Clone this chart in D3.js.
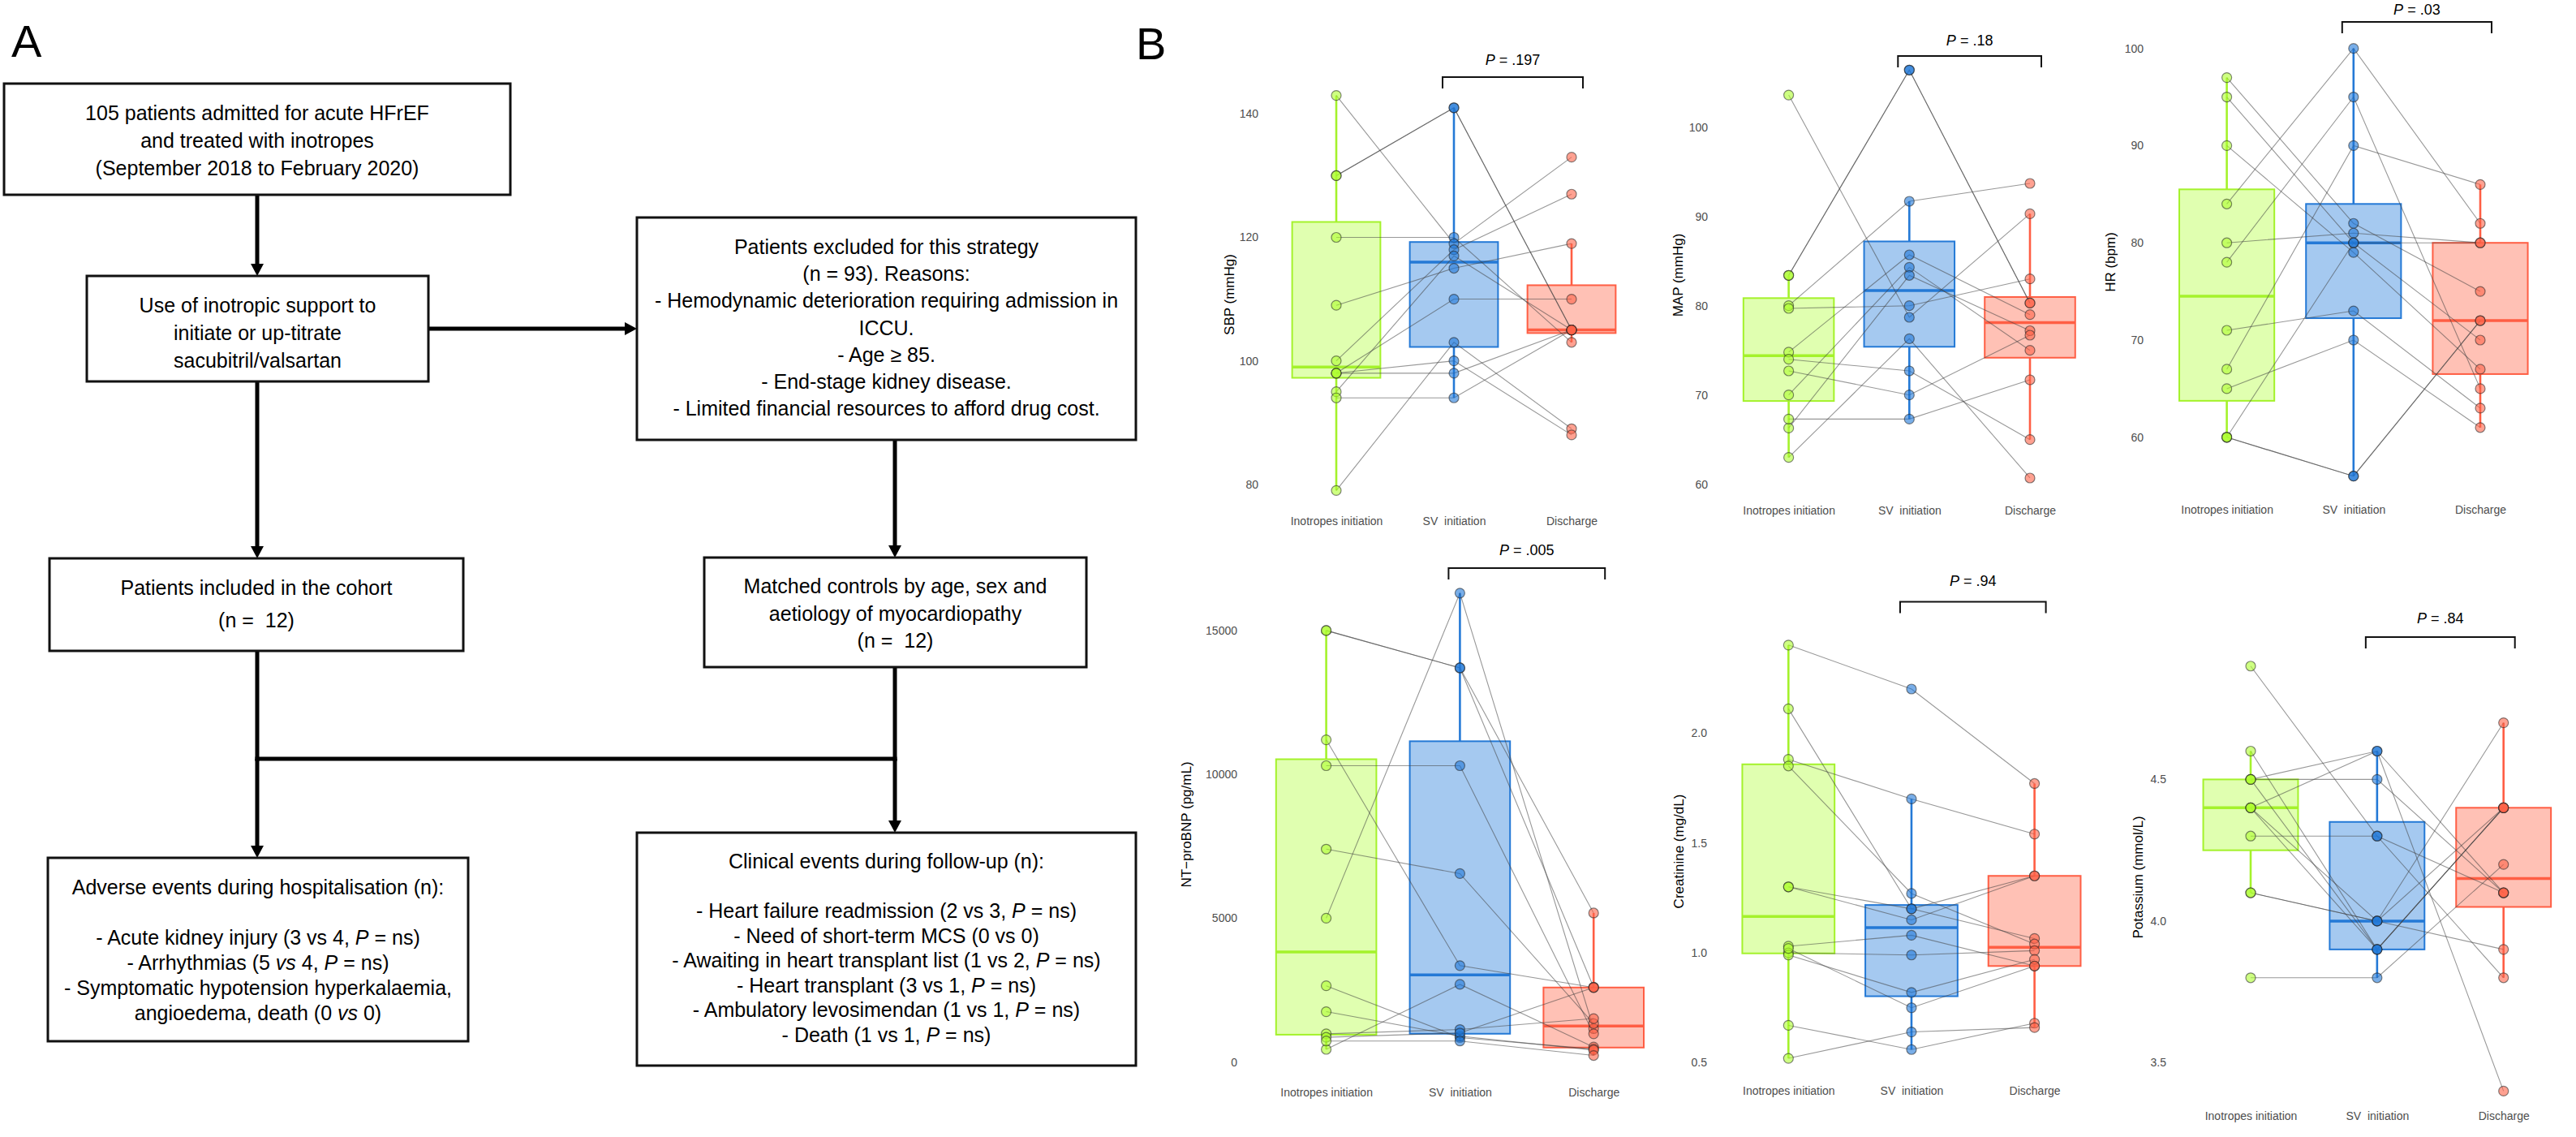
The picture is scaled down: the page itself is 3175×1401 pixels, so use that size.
<!DOCTYPE html>
<html><head><meta charset="utf-8">
<script src="https://cdn.jsdelivr.net/npm/d3@7"></script>
<style>body{margin:0;background:#fff} svg{display:block} text{white-space:pre}</style>
</head><body>
<svg id="fig" width="3175" height="1401"></svg>
<script>
// ---------------- DATA ----------------
const categories = ["Inotropes initiation", "SV  initiation", "Discharge"];

// per-patient values (same index = same patient)
const sbpIno = [130,130,120,143,100,95,109,98,79,98,98,94];
const sbpSV  = [141,141,120,119,118,117,115,110,103,100,98,94];
const sbpDis = [105,105,103,133,127,105,119,110,89,88,105,105];

const mapIno = [83.4,83.4,103.6,80,79.7,74.8,70,66.3,63,74,72.7,67.3];
const mapSV  = [106.4,106.4,78.7,91.7,80,85.7,84.3,83.4,76.3,72.7,70,67.3];
const mapDis = [80.3,80.3,90.3,93.7,83,79,75,77.2,60.7,65,76.7,71.7];

const hrIno = [84,78,67,97,80,95,60,90,71,65,60,60];
const hrSV  = [100,95,90,82,81,80,80,79,73,70,56,56];
const hrDis = [82,65,86,75,80,80,70,67,63,61,72,72];

const ntIno = [15000,15000,5000,11200,10300,7400,440,2650,1750,980,860,730];
const ntSV  = [13700,13700,16300,3350,10300,6550,2700,850,900,1130,1010,730];
const ntDis = [5180,2600,1160,2590,980,1335,520,450,415,1510,2590,227];

const crIno = [2.40,1.88,2.11,1.85,1.30,1.30,1.03,1.00,0.99,1.02,0.67,0.52];
const crSV  = [2.20,1.70,1.20,1.27,1.20,1.15,1.08,0.99,0.82,0.75,0.56,0.64];
const crDis = [1.77,1.54,1.065,1.04,1.35,1.35,0.94,1.01,0.97,0.94,0.68,0.66];

const kIno = [4.9,4.6,4.5,4.5,4.5,4.4,4.4,4.4,4.3,4.1,4.1,3.8];
const kSV  = [4.3,3.9,4.6,4.5,3.9,4.6,3.9,4.0,4.3,4.0,4.0,3.8];
const kDis = [4.1,4.4,4.1,4.1,4.4,3.4,4.4,4.7,3.8,3.9,4.4,4.2];

const sbpTicks = [80,100,120,140];
const mapTicks = [60,70,80,90,100];
const hrTicks  = [60,70,80,90,100];
const ntTicks  = [0,5000,10000,15000];
const crTicks  = [0.5,1.0,1.5,2.0];
const kTicks   = [3.5,4.0,4.5];

// axis limits (bottom, top of each panel)
const sbpLimits = [76.94,150.57];
const mapLimits = [57.88,108.79];
const hrLimits  = [53.22,99.97];
const ntLimits  = [-604,17169];
const crLimits  = [0.4243,2.750];
const kLimits   = [3.4413,5.2459];

const yTitles = ["SBP (mmHg)","MAP (mmHg)","HR (bpm)","NT\u2212proBNP (pg/mL)","Creatinine (mg/dL)","Potassium (mmol/L)"];
const pValues = [".197",".18",".03",".005",".94",".84"];

// flowchart texts
const box1Lines = ["105 patients admitted for acute HFrEF","and treated with inotropes","(September 2018 to February 2020)"];
const box2Lines = ["Use of inotropic support to","initiate or up-titrate","sacubitril/valsartan"];
const exclLines = ["Patients excluded for this strategy","(n = 93). Reasons:","- Hemodynamic deterioration requiring admission in","ICCU.","- Age \u2265 85.","- End-stage kidney disease.","- Limited financial resources to afford drug cost."];
const inclLines = ["Patients included in the cohort","(n =  12)"];
const matchLines = ["Matched controls by age, sex and","aetiology of myocardiopathy","(n =  12)"];
const advLines = ["Adverse events during hospitalisation (n):","","- Acute kidney injury (3 vs 4, _P_ = ns)","- Arrhythmias (5 _vs_ 4, _P_ = ns)","- Symptomatic hypotension hyperkalaemia,","angioedema, death (0 _vs_ 0)"];
const clinLines = ["Clinical events during follow-up (n):","","- Heart failure readmission (2 vs 3, _P_ = ns)","- Need of short-term MCS (0 vs 0)","- Awaiting in heart transplant list (1 vs 2, _P_ = ns)","- Heart transplant (3 vs 1, _P_ = ns)","- Ambulatory levosimendan (1 vs 1, _P_ = ns)","- Death (1 vs 1, _P_ = ns)"];

// ---------------- DRAW ----------------
const svg = d3.select("#fig");
svg.append("rect").attr("width",3175).attr("height",1401).attr("fill","#fff");
const FONT = "'Liberation Sans', Arial, sans-serif";

// Panel letters
svg.append("text").attr("x",14).attr("y",70).attr("font-family",FONT).attr("font-size",56).text("A");
svg.append("text").attr("x",1400).attr("y",73).attr("font-family",FONT).attr("font-size",56).text("B");

// ---- flowchart ----
function rich(t, str){
  const parts = str.split("_");
  parts.forEach((p,i)=>{ if(p.length) t.append("tspan").attr("font-style", i%2 ? "italic" : "normal").text(p); });
}
const flow = svg.append("g").attr("font-family",FONT).attr("font-size",25).attr("fill","#000");
function box(x0,y0,x1,y1,lines,firstBase,step){
  flow.append("rect").attr("x",x0).attr("y",y0).attr("width",x1-x0).attr("height",y1-y0)
    .attr("fill","#fff").attr("stroke","#111").attr("stroke-width",3);
  lines.forEach((l,i)=>{
    const t = flow.append("text").attr("x",(x0+x1)/2).attr("y",firstBase+i*step).attr("text-anchor","middle");
    rich(t,l);
  });
}
function arrow(x1,y1,x2,y2){
  const dx=x2-x1, dy=y2-y1, L=Math.hypot(dx,dy), ux=dx/L, uy=dy/L, hl=15, hw=8;
  flow.append("line").attr("x1",x1).attr("y1",y1).attr("x2",x2-ux*hl).attr("y2",y2-uy*hl)
    .attr("stroke","#000").attr("stroke-width",5);
  const bx=x2-ux*hl, by=y2-uy*hl;
  flow.append("path").attr("d",`M${x2},${y2}L${bx-uy*hw},${by+ux*hw}L${bx+uy*hw},${by-ux*hw}Z`).attr("fill","#000");
}
function seg(x1,y1,x2,y2){
  flow.append("line").attr("x1",x1).attr("y1",y1).attr("x2",x2).attr("y2",y2).attr("stroke","#000").attr("stroke-width",5).attr("stroke-linecap","square");
}
arrow(317,240,317,340);
arrow(528,405,785,405);
arrow(317,470,317,688);
arrow(1103,542,1103,687);
seg(317,802,317,935); seg(1103,822,1103,935); seg(317,935,1103,935);
arrow(317,935,317,1057);
arrow(1103,935,1103,1026);

box(5,103,629,240,box1Lines,148,34);
box(107,340,528,470,box2Lines,385,34);
box(785,268,1400,542,exclLines,313,33.2);
box(61,688,571,802,inclLines,733,40);
box(868,687,1339,822,matchLines,731,33.5);
box(59,1057,577,1283,advLines,1102,31);
box(785,1026,1400,1313,clinLines,1070,30.5);

// ---- box plots ----
const fills   = ["#ADFF2F","#1F78D9","#FF6347"];
const strokes = ["#A4F22B","#2479D6","#FF5E44"];

const charts = [
  {ino:sbpIno, sv:sbpSV, dis:sbpDis, ticks:sbpTicks, lim:sbpLimits, fmt:d3.format("d"),
   L:{cx:[1647,1937], py:[620,60], tickX:1551, titleX:1515, titleY:363, xLabY:647, brY:95, pY:80}},
  {ino:mapIno, sv:mapSV, dis:mapDis, ticks:mapTicks, lim:mapLimits, fmt:d3.format("d"),
   L:{cx:[2204.6,2502], py:[620,60], tickX:2105, titleX:2068, titleY:339, xLabY:634, brY:69, pY:56}},
  {ino:hrIno, sv:hrSV, dis:hrDis, ticks:hrTicks, lim:hrLimits, fmt:d3.format("d"),
   L:{cx:[2744.6,3057], py:[620,60], tickX:2642, titleX:2601, titleY:323, xLabY:633, brY:27, pY:17.5}},
  {ino:ntIno, sv:ntSV, dis:ntDis, ticks:ntTicks, lim:ntLimits, fmt:d3.format("d"),
   L:{cx:[1634.6,1964.2], py:[1330,700], tickX:1525, titleX:1462, titleY:1016, xLabY:1351, brY:700, pY:684}},
  {ino:crIno, sv:crSV, dis:crDis, ticks:crTicks, lim:crLimits, fmt:d3.format(".1f"),
   L:{cx:[2204.3,2507.6], py:[1330,700], tickX:2104, titleX:2069, titleY:1049, xLabY:1349, brY:741.6, pY:722}},
  {ino:kIno, sv:kSV, dis:kDis, ticks:kTicks, lim:kLimits, fmt:d3.format(".1f"),
   L:{cx:[2774,3085.7], py:[1330,700], tickX:2670, titleX:2635, titleY:1081, xLabY:1380, brY:785, pY:768}}
];

charts.forEach((c,ci)=>{
  const L = c.L;
  const g = svg.append("g");
  const x = d3.scalePoint().domain(categories).range(L.cx);
  const step = x.step();
  const bw = step*0.75;
  const y = d3.scaleLinear().domain(c.lim).range(L.py);
  const groups = [c.ino, c.sv, c.dis];

  // y axis
  const ya = g.append("g").attr("transform",`translate(${L.tickX},0)`)
    .call(d3.axisLeft(y).tickValues(c.ticks).tickFormat(c.fmt).tickSize(0).tickPadding(0));
  ya.select(".domain").remove();
  ya.selectAll("text").attr("font-family",FONT).attr("font-size",14).attr("fill","#4d4d4d");

  // x axis labels
  const xa = g.append("g").attr("transform",`translate(0,${L.xLabY})`)
    .call(d3.axisBottom(x).tickSize(0).tickPadding(0));
  xa.select(".domain").remove();
  xa.selectAll("text").attr("dy",0).attr("font-family",FONT).attr("font-size",14).attr("fill","#4d4d4d");

  // y title
  g.append("text").attr("transform",`translate(${L.titleX},${L.titleY}) rotate(-90)`)
    .attr("text-anchor","middle").attr("dominant-baseline","central")
    .attr("font-family",FONT).attr("font-size",17).attr("fill","#000").text(yTitles[ci]);

  // boxes
  groups.forEach((vals,gi)=>{
    const s = vals.slice().sort(d3.ascending);
    const q1 = d3.quantile(s,0.25), med = d3.quantile(s,0.5), q3 = d3.quantile(s,0.75);
    const iqr = q3-q1;
    const hiW = d3.max(s.filter(v=>v<=q3+1.5*iqr));
    const loW = d3.min(s.filter(v=>v>=q1-1.5*iqr));
    const cx = x(categories[gi]);
    g.append("line").attr("x1",cx).attr("x2",cx).attr("y1",y(q3)).attr("y2",y(hiW))
      .attr("stroke",strokes[gi]).attr("stroke-width",2.6);
    g.append("line").attr("x1",cx).attr("x2",cx).attr("y1",y(q1)).attr("y2",y(loW))
      .attr("stroke",strokes[gi]).attr("stroke-width",2.6);
    g.append("rect").attr("x",cx-bw/2).attr("width",bw).attr("y",y(q3)).attr("height",y(q1)-y(q3))
      .attr("fill",fills[gi]).attr("fill-opacity",gi==0?0.38:0.4)
      .attr("stroke",strokes[gi]).attr("stroke-width",2);
    g.append("line").attr("x1",cx-bw/2).attr("x2",cx+bw/2).attr("y1",y(med)).attr("y2",y(med))
      .attr("stroke",strokes[gi]).attr("stroke-width",3.5);
  });

  // paired lines
  c.ino.forEach((v,i)=>{
    const pts = [[x(categories[0]),y(c.ino[i])],[x(categories[1]),y(c.sv[i])],[x(categories[2]),y(c.dis[i])]];
    g.append("path").attr("d",d3.line()(pts)).attr("fill","none")
      .attr("stroke","#444").attr("stroke-opacity",0.55).attr("stroke-width",1.1);
  });

  // points
  groups.forEach((vals,gi)=>{
    g.selectAll(null).data(vals).enter().append("circle")
      .attr("cx",x(categories[gi])).attr("cy",d=>y(d)).attr("r",6)
      .attr("fill",fills[gi]).attr("fill-opacity",0.6)
      .attr("stroke","#222").attr("stroke-opacity",0.55).attr("stroke-width",1.2);
  });

  // bracket + p value
  const bx0 = x(categories[1]) - 14, bx1 = x(categories[2]) + 14;
  g.append("path").attr("d",`M${bx0},${L.brY+14}V${L.brY}H${bx1}V${L.brY+14}`)
    .attr("fill","none").attr("stroke","#111").attr("stroke-width",2);
  const pt = g.append("text").attr("x",(bx0+bx1)/2).attr("y",L.pY).attr("text-anchor","middle")
    .attr("font-family",FONT).attr("font-size",18).attr("fill","#000");
  pt.append("tspan").attr("font-style","italic").text("P");
  pt.append("tspan").text(" = " + pValues[ci]);
});
</script>
</body></html>
